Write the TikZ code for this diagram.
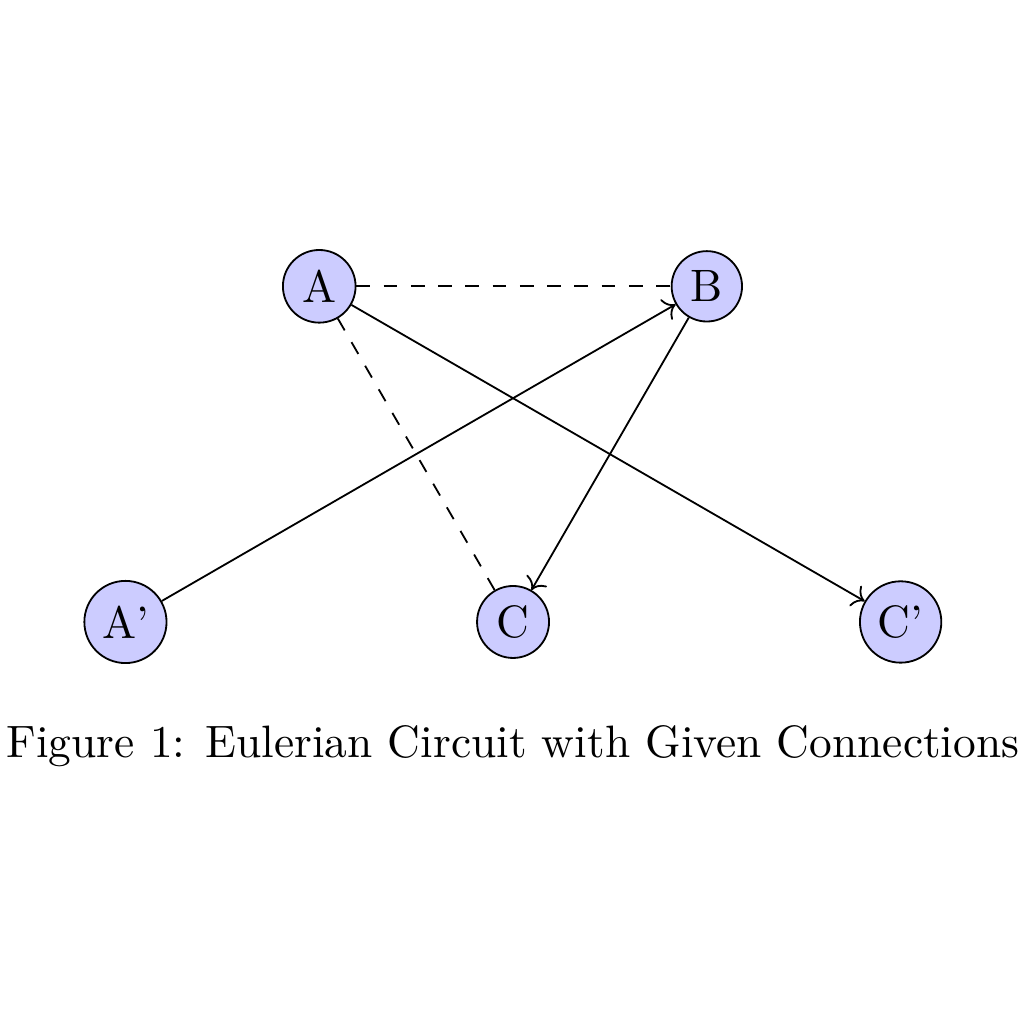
\documentclass[tikz,border=0pt]{standalone}
\usepackage{tikz}
\usetikzlibrary{arrows.meta,positioning}

\begin{document}
\begin{tikzpicture}[
  vertex/.style={circle, draw, fill=blue!20, inner sep=2pt},
  edge/.style={->},
  hint/.style={dashed}
]
  \useasboundingbox (-0.971,-3.111) rectangle (6.955,4.814);
  \node[vertex] (Ap) at (0,0) {A'};
  \node[vertex] (C) at (3,0) {C};
  \node[vertex] (Cp) at (6,0) {C'};
  \node[vertex] (A) at (1.5,2.598) {A};
  \node[vertex] (B) at (4.5,2.598) {B};

  \draw[hint] (A) -- (B);
  \draw[hint] (A) -- (C);
  \draw[edge] (A) -- (Cp);
  \draw[edge] (Ap) -- (B);
  \draw[edge] (B) -- (C);

  \node (caption) at (3,-0.96) {Figure 1: Eulerian Circuit with Given Connections};
\end{tikzpicture}
\end{document}
